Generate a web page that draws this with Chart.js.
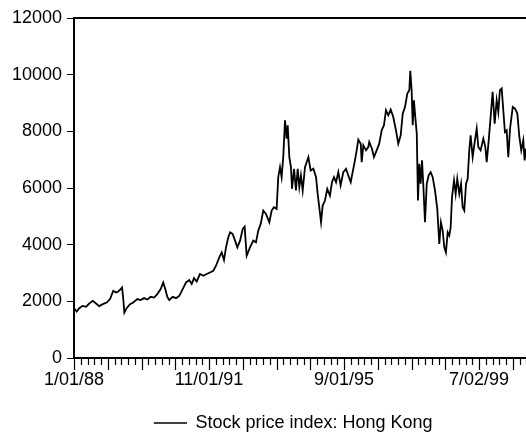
<!DOCTYPE html>
<html>
<head>
<meta charset="utf-8">
<script src="https://cdn.jsdelivr.net/npm/chart.js@4/dist/chart.umd.min.js"></script>
<style>
  body { margin: 0; background: #fff; }
  #wrap { width: 526px; height: 436px; overflow: hidden; }
</style>
</head>
<body>
<div id="wrap"><canvas id="grafico" width="600" height="436" style="width:600px;height:436px"></canvas></div>
<script>
const obsIndex = [
  0, 20, 39, 64, 89, 113, 139, 163, 187, 213, 242, 267, 291, 311, 328, 346, 356, 365, 373, 390,
  415, 439, 469, 494, 519, 543, 568, 593, 617, 642, 661, 676, 691, 706, 731, 756, 780, 805, 830, 854,
  872, 889, 909, 933, 958, 983, 1007, 1032, 1052, 1076, 1094, 1111, 1126, 1143, 1156, 1175, 1193, 1210, 1230, 1250,
  1264, 1279, 1304, 1328, 1348, 1365, 1383, 1402, 1422, 1447, 1464, 1481, 1501, 1513, 1526, 1538, 1550, 1563, 1575, 1583,
  1595, 1607, 1615, 1630, 1644, 1657, 1669, 1681, 1694, 1711, 1736, 1753, 1773, 1793, 1805, 1817, 1830, 1842, 1859, 1876,
  1896, 1911, 1926, 1941, 1958, 1975, 1995, 2015, 2032, 2050, 2064, 2081, 2094, 2106, 2124, 2131, 2143, 2163, 2180, 2187,
  2207, 2222, 2242, 2261, 2279, 2296, 2311, 2328, 2346, 2365, 2385, 2402, 2420, 2435, 2452, 2469, 2484, 2491, 2501, 2509,
  2518, 2528, 2539, 2548, 2558, 2568, 2578, 2587, 2600, 2613, 2627, 2642, 2657, 2674, 2691, 2706, 2718, 2731, 2743, 2755,
  2768, 2780, 2790, 2800, 2815, 2827, 2839, 2854, 2867, 2879, 2891, 2904, 2916, 2928, 2938, 2953, 2970, 2983, 2995, 3012,
  3032, 3047, 3057, 3072, 3087, 3101, 3116, 3131, 3143, 3155, 3168, 3180, 3192, 3205, 3217, 3230, 3250, 3267, 3284, 3299,
  3313, 3328, 3338, 3348
];
const hsiValues = [
  1760, 1640, 1760, 1840, 1805, 1922, 2018, 1922, 1830, 1900, 1958, 2078, 2372, 2312, 2347, 2432, 2489, 2078, 1604, 1760,
  1900, 1958, 2078, 2042, 2113, 2064, 2160, 2135, 2255, 2432, 2666, 2432, 2160, 2042, 2160, 2113, 2195, 2432, 2666, 2750,
  2609, 2821, 2701, 2963, 2903, 2963, 3020, 3080, 3257, 3550, 3727, 3458, 3905, 4259, 4436, 4379, 4142, 3905, 4142, 4556,
  4637, 3611, 3905, 4142, 4082, 4496, 4733, 5204, 5087, 4790, 5204, 5320, 5264, 6383, 6737, 6383, 7090, 8390, 7742, 8213,
  7090, 6737, 5972, 6680, 5912, 6680, 6030, 6443, 5912, 6737, 7090, 6620, 6680, 6383, 5791, 5320, 4790, 5381, 5558, 5972,
  5735, 6206, 6383, 6206, 6560, 6089, 6560, 6680, 6443, 6206, 6560, 6974, 7328, 7706, 7565, 6914, 7505, 7328, 7446, 7624,
  7388, 7090, 7328, 7565, 8036, 8213, 8744, 8567, 8768, 8507, 8036, 7565, 7859, 8626, 8862, 9334, 9452, 10135, 9452, 8213,
  9098, 8507, 7919, 5558, 6858, 6149, 6974, 6149, 4790, 6149, 6443, 6560, 6383, 5912, 5264, 4025, 4790, 4496, 3905, 3727,
  4436, 4319, 4613, 5675, 6266, 5791, 6326, 5791, 6149, 5320, 5204, 6149, 6326, 7328, 7859, 7090, 7682, 8095, 7446, 7328,
  7742, 7446, 6914, 7682, 8567, 9393, 8272, 9098, 8685, 9452, 9511, 8744, 7977, 8036, 7090, 8095, 8862, 8803, 8626, 7800,
  7328, 7682, 6974, 7388
];
const dateLabels = ['1/01/88', '11/01/91', '9/01/95', '7/02/99'];
const yTicks = [0, 2000, 4000, 6000, 8000, 10000, 12000];

Chart.defaults.font.family = 'Arial, "Liberation Sans", sans-serif';
Chart.defaults.font.size = 18;
Chart.defaults.color = '#000';

// top frame line and the x tick marks (short every 50 obs, long every 250)
const moldura = {
  id: 'moldura',
  afterDraw(chart) {
    const ctx = chart.ctx;
    const area = chart.chartArea;
    const x = chart.scales.x;
    ctx.save();
    ctx.strokeStyle = '#000';
    ctx.lineWidth = 2;
    ctx.beginPath();
    ctx.moveTo(area.left - 1, area.top);
    ctx.lineTo(area.right, area.top);
    ctx.stroke();
    ctx.lineWidth = 1.2;
    ctx.beginPath();
    for (let v = 0; v <= x.max; v += 50) {
      const px = Math.round(x.getPixelForValue(v)) + 0.5;
      const len = v % 250 === 0 ? 12 : 7;
      ctx.moveTo(px, area.bottom);
      ctx.lineTo(px, area.bottom + len);
    }
    ctx.stroke();
    ctx.restore();
  }
};

new Chart(document.getElementById('grafico'), {
  type: 'line',
  data: {
    datasets: [{
      label: 'Stock price index: Hong Kong',
      data: obsIndex.map((o, i) => ({ x: o, y: hsiValues[i] })),
      borderColor: '#000',
      backgroundColor: '#000',
      borderWidth: 1.8,
      pointRadius: 0,
      tension: 0
    }]
  },
  options: {
    responsive: false,
    animation: false,
    layout: { padding: { left: 0, right: 13, top: 18, bottom: -6 } },
    scales: {
      x: {
        type: 'linear',
        min: 0,
        max: 3800,
        afterFit(s) { s.height = 52; },
        border: { color: '#000', width: 2 },
        grid: { drawOnChartArea: false, drawTicks: true, tickLength: 7, color: 'rgba(0,0,0,0)' },
        ticks: {
          stepSize: 50,
          autoSkip: false,
          maxRotation: 0,
          padding: 4,
          callback: v => (v % 1000 === 0 ? dateLabels[v / 1000] || '' : '')
        }
      },
      y: {
        min: 0,
        max: 12000,
        afterFit(s) { s.width = 74; },
        afterBuildTicks(s) { s.ticks = yTicks.map(v => ({ value: v })); },
        border: { color: '#000', width: 2 },
        grid: { drawOnChartArea: false, drawTicks: true, tickLength: 7, color: '#000', lineWidth: 1 },
        ticks: { padding: 5, callback: v => String(v) }
      }
    },
    plugins: {
      legend: {
        position: 'bottom',
        labels: {
          boxWidth: 32,
          boxHeight: 0.2,
          padding: 4,
          generateLabels: chart => Chart.defaults.plugins.legend.labels.generateLabels(chart)
            .map(item => Object.assign(item, { lineWidth: 1.2 }))
        }
      },
      tooltip: { enabled: false }
    }
  },
  plugins: [moldura]
});
</script>
</body>
</html>
